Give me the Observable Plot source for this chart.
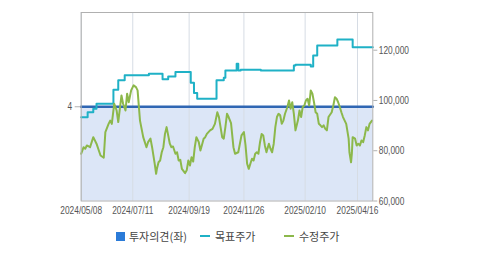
<!DOCTYPE html>
<html><head><meta charset="utf-8">
<script src="https://cdn.jsdelivr.net/npm/d3@7"></script>
<script src="https://cdn.jsdelivr.net/npm/@observablehq/plot@0.6"></script>
<style>
body{margin:0;background:#fff;width:479px;height:255px;overflow:hidden}
#chart svg{overflow:visible;display:block}
#legend{position:relative;height:33px;font-family:"Noto Sans CJK KR",sans-serif;font-size:11px;color:#444}
.item{position:absolute;top:6px;height:16px;display:flex;align-items:center;white-space:nowrap}
.sq{width:9px;height:9px;margin-right:4px}
.ln{width:10px;height:2.5px;margin-right:5px}
</style></head><body><div id="chart"></div><div id="legend"></div>
<script>
const priceDates = ["2024-05-08","2024-05-11","2024-05-13","2024-05-15","2024-05-19","2024-05-23","2024-05-27","2024-06-01","2024-06-05","2024-06-07","2024-06-11","2024-06-13","2024-06-15","2024-06-18","2024-06-21","2024-06-23","2024-06-27","2024-06-29","2024-07-02","2024-07-04","2024-07-06","2024-07-09","2024-07-12","2024-07-15","2024-07-17","2024-07-20","2024-07-24","2024-07-28","2024-07-30","2024-08-02","2024-08-04","2024-08-07","2024-08-09","2024-08-10","2024-08-12","2024-08-14","2024-08-16","2024-08-18","2024-08-20","2024-08-22","2024-08-24","2024-08-26","2024-08-28","2024-08-30","2024-09-02","2024-09-04","2024-09-06","2024-09-08","2024-09-10","2024-09-14","2024-09-16","2024-09-18","2024-09-20","2024-09-22","2024-09-24","2024-09-26","2024-09-28","2024-10-01","2024-10-03","2024-10-05","2024-10-07","2024-10-09","2024-10-11","2024-10-13","2024-10-15","2024-10-18","2024-10-21","2024-10-24","2024-10-26","2024-10-28","2024-10-30","2024-11-01","2024-11-03","2024-11-05","2024-11-07","2024-11-10","2024-11-13","2024-11-15","2024-11-19","2024-11-23","2024-11-26","2024-11-28","2024-11-30","2024-12-02","2024-12-04","2024-12-06","2024-12-08","2024-12-10","2024-12-12","2024-12-14","2024-12-16","2024-12-18","2024-12-20","2024-12-22","2024-12-24","2024-12-27","2024-12-29","2024-12-31","2025-01-02","2025-01-04","2025-01-06","2025-01-08","2025-01-10","2025-01-12","2025-01-14","2025-01-16","2025-01-19","2025-01-21","2025-01-23","2025-01-25","2025-01-27","2025-01-29","2025-02-01","2025-02-03","2025-02-05","2025-02-07","2025-02-09","2025-02-11","2025-02-13","2025-02-15","2025-02-17","2025-02-19","2025-02-21","2025-02-23","2025-02-25","2025-02-27","2025-03-01","2025-03-03","2025-03-05","2025-03-07","2025-03-09","2025-03-11","2025-03-15","2025-03-17","2025-03-19","2025-03-21","2025-03-23","2025-03-25","2025-03-27","2025-03-29","2025-04-02","2025-04-05","2025-04-06","2025-04-08","2025-04-09","2025-04-10","2025-04-13","2025-04-15","2025-04-17","2025-04-19","2025-04-21","2025-04-23","2025-04-25","2025-04-27","2025-04-29","2025-05-01","2025-05-04"];
const priceValues = [78800,81400,80800,82100,81400,85400,82800,78100,77200,87400,90700,92000,90700,98700,96000,91400,102000,98700,96000,102700,99300,104000,106000,105300,104000,92000,85400,81400,83400,84800,81400,75400,70800,72800,75400,76100,79400,81400,86700,89400,86100,82800,81400,81700,78800,79400,76100,76400,72800,71100,72200,76100,74100,77400,75700,81400,85400,83400,80100,82400,84800,85400,86700,87400,88100,88700,90700,95300,93400,89400,85400,84800,89400,94700,93400,91000,81400,78800,79400,86100,87400,82100,74800,72800,74800,76800,76100,78800,79400,78800,83400,86700,86100,82100,79400,82800,80800,79400,82800,89400,93400,94700,94100,90700,92000,94700,97400,100000,96700,99300,94700,88100,92000,96000,93400,97400,98000,100000,100700,98000,104000,102700,99300,95300,94700,90700,90100,89400,90100,88700,88100,93400,95300,98000,101300,100700,99300,97400,95300,93400,90700,84800,79400,75400,78800,85400,84800,82100,82800,82100,84100,83400,86100,89400,88100,90700,92000];
const targetDates = ["2024-05-08","2024-05-16","2024-05-23","2024-05-27","2024-06-17","2024-06-23","2024-07-01","2024-07-31","2024-08-17","2024-08-24","2024-09-02","2024-09-21","2024-09-25","2024-09-29","2024-10-23","2024-11-01","2024-11-03","2024-11-17","2024-11-19","2024-11-22","2024-12-17","2025-01-27","2025-01-29","2025-02-17","2025-02-20","2025-02-25","2025-03-22","2025-04-10","2025-05-05"];
const targetValues = [93300,95300,96700,98700,104300,108000,110000,110600,108400,109500,111300,107000,103000,100700,108000,109000,111900,114600,111900,112200,111900,113900,114200,113500,117900,121900,124300,121200,121200];
const opinionDates = ["2024-05-08","2025-05-05"];
const opinionValues = [4,4];
const xTicks = ["2024-05-08","2024-07-11","2024-09-19","2024-11-26","2025-02-10","2025-04-16"];
const priceTicks = [60000,80000,100000,120000];
const opinionTicks = [4];
const priceDomain = [60000,135000];
const opinionDomain = [0,8];
const xDomain = ["2024-05-08","2025-05-05"];

const toPrice = d3.scaleLinear(opinionDomain, priceDomain);
const D = s => new Date(s + "T00:00:00Z");
const price = priceDates.map((d,i)=>({date:D(d), v:priceValues[i]}));
const target = targetDates.map((d,i)=>({date:D(d), v:targetValues[i]}));
const opinion = opinionDates.map((d,i)=>({date:D(d), v:toPrice(opinionValues[i])}));
const ticks = xTicks.map(D);

const C = {fill:"#dce6f7", blue:"#2f66b3", teal:"#1fb1c6", green:"#8cb84b", grid:"#d6dce4", frame:"#b0b0b0", text:"#555", legendBlue:"#2b7bd8"};

const chart = Plot.plot({
  width:479, height:222,
  marginTop:12, marginBottom:21.5, marginLeft:80.7, marginRight:106.7,
  style:{fontFamily:"'Liberation Sans',sans-serif", fontSize:"11px", color:C.text, background:"#fff"},
  x:{type:"utc", domain:xDomain.map(D)},
  y:{domain:priceDomain},
  marks:[
    Plot.areaY(opinion,{x:"date", y1:priceDomain[0], y2:"v", fill:C.fill}),
    Plot.ruleX(ticks,{stroke:C.grid, strokeWidth:1}),
    Plot.lineY(opinion,{x:"date", y:"v", stroke:C.blue, strokeWidth:2.5}),
    Plot.lineY(target,{x:"date", y:"v", stroke:C.teal, strokeWidth:2, curve:"step-after"}),
    Plot.lineY(price,{x:"date", y:"v", stroke:C.green, strokeWidth:2}),
    Plot.frame({stroke:C.frame}),
    Plot.axisY(priceTicks,{anchor:"right", tickFormat:d3.format(","), tickSize:4, tickPadding:2, label:null, stroke:C.frame}),
    Plot.axisY(opinionTicks.map(toPrice),{anchor:"left", tickFormat:d=>String(toPrice.invert(d)), tickSize:6, tickPadding:3, label:null, stroke:C.frame}),
    Plot.axisX(ticks,{anchor:"bottom", tickFormat:d3.utcFormat("%Y/%m/%d"), tickSize:0, tickPadding:5, label:null})
  ]
});
// condense tick label glyphs horizontally to match the narrow original font
chart.querySelectorAll('g[aria-label$="tick label"] text').forEach(t=>{
  const tr = t.getAttribute("transform") || "";
  t.setAttribute("transform", tr + " scale(0.76,1)");
});
document.getElementById("chart").append(chart);

const legendItems = [
  {label:"투자의견(좌)", color:C.legendBlue, kind:"sq"},
  {label:"목표주가", color:C.teal, kind:"ln"},
  {label:"수정주가", color:C.green, kind:"ln"}
];
const lg = document.getElementById("legend");
legendItems.forEach((it,i)=>{
  const el = document.createElement("div");
  el.className="item"; el.style.left=(116+84*i)+"px";
  const m = document.createElement("span"); m.className=it.kind; m.style.background=it.color;
  const t = document.createElement("span"); t.textContent=it.label;
  el.append(m,t); lg.append(el);
});
</script></body></html>
